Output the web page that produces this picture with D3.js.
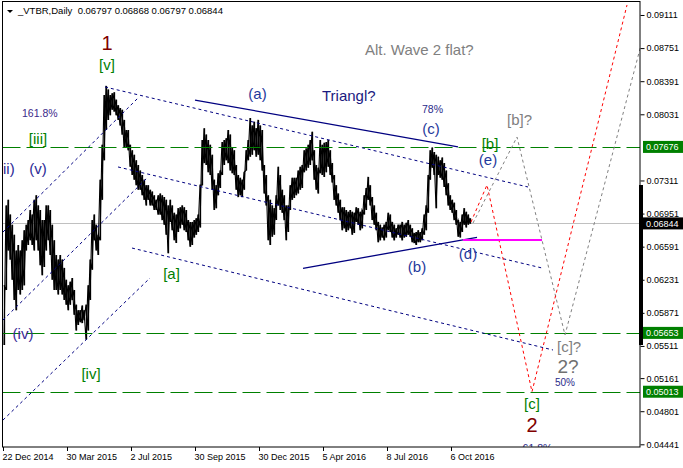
<!DOCTYPE html>
<html><head><meta charset="utf-8">
<script src="https://cdn.jsdelivr.net/npm/d3@7"></script>
<style>body{margin:0;background:#fff}svg{display:block}text{font-family:"Liberation Sans",Arial,sans-serif}</style>
</head><body>
<svg id="c" width="683" height="468"></svg>
<script>
// ---------- DATA ----------
const title = "_VTBR,Daily  0.06797 0.06868 0.06797 0.06844";
const tickLabels = ["22 Dec 2014","30 Mar 2015","2 Jul 2015","30 Sep 2015","30 Dec 2015","5 Apr 2016","8 Jul 2016","6 Oct 2016"];
const tickBars = [0,64,128,192,256,320,384,448];
const priceTicks = [0.09111,0.08751,0.08391,0.08031,0.07311,0.06951,0.06591,0.06231,0.05871,0.05511,0.05161,0.04801,0.04441];
const levelLines = [0.07676,0.05653,0.05013];
const lastPrice = 0.06844;
const firstBar = 1, barStep = 2;
// daily highs / lows, sampled every 2 bars (price x 10^4)
const highsE4 = [
617,704,710,694,683,672,655,661,655,666,
677,683,688,699,694,710,715,704,699,688,
688,704,704,699,683,666,650,645,650,645,
636,623,617,621,625,612,596,590,590,595,
590,596,617,645,688,694,683,672,732,770,
824,834,830,824,826,827,819,813,810,808,
797,786,786,770,764,759,753,748,742,737,
732,726,726,721,719,715,710,715,717,715,
713,710,704,710,704,696,694,701,702,704,
702,699,688,686,686,688,690,694,726,775,
788,781,775,770,759,732,726,739,742,773,
775,777,786,781,767,764,748,737,734,732,
740,764,775,799,791,795,788,797,791,786,
748,737,715,710,704,701,715,746,737,721,
715,704,704,726,734,734,734,742,746,748,
764,766,770,775,784,764,748,745,775,770,
772,773,775,764,750,737,726,717,710,702,
702,699,697,699,697,696,702,701,697,699,
715,723,735,726,713,704,696,686,683,680,
683,686,696,694,686,683,679,683,683,686,
683,685,688,683,679,674,675,677,675,679,
694,704,737,764,767,762,759,757,753,756,
750,742,728,715,710,707,699,688,686,694,
701,697,694,690];
const lowsE4 = [
552,612,655,645,623,601,590,612,607,612,
617,655,661,666,661,655,666,655,639,628,
637,655,666,650,623,612,612,607,612,607,
601,596,590,596,601,585,568,574,577,576,
579,558,568,601,634,666,655,650,666,710,
753,786,797,802,808,806,802,797,791,781,
767,767,764,746,737,732,726,721,721,715,
710,704,710,704,704,699,699,694,694,688,
683,672,652,686,677,666,663,675,679,683,
677,675,666,659,661,669,672,675,680,726,
750,748,740,737,721,699,701,715,723,737,
748,753,750,742,739,737,721,713,715,713,
721,742,753,757,759,764,757,759,753,742,
717,704,666,661,670,672,688,704,699,696,
688,666,675,699,710,712,715,717,721,723,
740,742,745,748,753,732,721,717,739,737,
735,740,746,737,729,710,704,696,688,677,
679,675,677,679,672,674,686,683,677,679,
694,699,710,704,688,683,677,664,666,669,
666,669,677,675,669,666,669,672,669,666,
669,670,672,670,664,663,661,664,664,666,
672,677,696,732,745,737,701,737,734,732,
724,715,704,699,696,688,683,670,669,675,
683,680,683,684];
const highs = highsE4.map(v => v / 1e4);
const lows  = lowsE4.map(v => v / 1e4);

// trend objects: [barIndex, price]
const solidLines = [
  [[192,0.08186],[455,0.07676]],
  [[300,0.06355],[474,0.06693]]
];
const dottedLines = [
  [[102,0.08328],[525,0.07240]],
  [[115,0.07458],[539,0.06359]],
  [[129,0.06576],[550,0.05467]],
  [[0,0.06750],[135,0.08208]],
  [[0,0.05793],[144,0.07338]],
  [[0,0.04705],[147,0.06250]]
];
const redPath  = [[468,0.06859],[484,0.07262],[529,0.05013],[624,0.09220]];
const grayPath = [[470,0.06848],[514,0.07784],[562,0.05630],[638,0.08784]];
const magentaLevel = [[460,0.06663],[539,0.06663]];

// ---------- LAYOUT ----------
const plot = {l:2.5, t:2, r:640, b:447};
const svg = d3.select("#c");
const x = d3.scaleLinear().domain([0,637]).range([3,640]);
const y = d3.scaleLinear().domain([0.044117,0.092524]).range([447,2]);
const FONT = '"Liberation Sans",Arial,sans-serif';

svg.append("defs").append("clipPath").attr("id","clip")
  .append("rect").attr("x",plot.l).attr("y",plot.t).attr("width",plot.r-plot.l).attr("height",plot.b-plot.t);
const g = svg.append("g").attr("clip-path","url(#clip)");

// bid line
g.append("line").attr("x1",plot.l).attr("x2",plot.r)
  .attr("y1",Math.round(y(lastPrice))+0.5).attr("y2",Math.round(y(lastPrice))+0.5)
  .attr("stroke","#c0c0c0").attr("stroke-width",1);

// price: vertical high-low bars plus a zigzag joining them
const samples = highs.map((h,i)=>({bar:firstBar+i*barStep, h, l:lows[i]}));
g.append("g").selectAll("line").data(samples).join("line")
  .attr("x1",d=>Math.round(x(d.bar))+0.5).attr("x2",d=>Math.round(x(d.bar))+0.5)
  .attr("y1",d=>y(d.h)).attr("y2",d=>y(d.l))
  .attr("stroke","#000").attr("stroke-width",1.3);
const zig = samples.map((d,i)=>[x(d.bar), y(i%2 ? d.l : d.h)]);
g.append("path").attr("d",d3.line()(zig)).attr("fill","none")
  .attr("stroke","#000").attr("stroke-width",1.1);
const zig2 = samples.map((d,i)=>[x(d.bar), y(i%2 ? d.h : d.l)]);
g.append("path").attr("d",d3.line()(zig2)).attr("fill","none")
  .attr("stroke","#000").attr("stroke-width",1.1);

// green levels
levelLines.forEach(v=>{
  const yy = Math.round(y(v))+0.5;
  g.append("line").attr("x1",plot.l).attr("x2",plot.r).attr("y1",yy).attr("y2",yy)
   .attr("stroke","#008000").attr("stroke-width",1).attr("stroke-dasharray","18,6");
});

const line = d3.line().x(d=>x(d[0])).y(d=>y(d[1]));
dottedLines.forEach(p=> g.append("path").attr("d",line(p)).attr("fill","none")
  .attr("stroke","#000080").attr("stroke-width",1).attr("stroke-dasharray","3,3"));
solidLines.forEach(p=> g.append("path").attr("d",line(p)).attr("fill","none")
  .attr("stroke","#000080").attr("stroke-width",1.3));
g.append("path").attr("d",line(grayPath)).attr("fill","none")
  .attr("stroke","#808080").attr("stroke-width",1).attr("stroke-dasharray","3,3");
g.append("path").attr("d",line(redPath)).attr("fill","none")
  .attr("stroke","#ff0000").attr("stroke-width",1).attr("stroke-dasharray","3,3");
g.append("path").attr("d",line(magentaLevel)).attr("fill","none")
  .attr("stroke","#ff00ff").attr("stroke-width",2);

// annotations
const annos = [
  ["1",107,50,"middle",20,"#800000"],
  ["[v]",107,70,"middle",15,"#008000"],
  ["161.8%",22,117,"start",10.5,"#3a2a8a"],
  ["[iii]",38,144,"middle",15,"#008000"],
  ["ii)",3,174,"start",15,"#2a2a96"],
  ["(v)",38,174,"middle",15,"#2a2a96"],
  ["[a]",171.5,279,"middle",15,"#008000"],
  ["(iv)",23,339,"middle",15,"#3a2a96"],
  ["[iv]",91,379,"middle",15,"#008000"],
  ["(a)",257.5,99,"middle",15,"#1f3a9c"],
  ["Triangl?",322,101,"start",15,"#1a1a80"],
  ["Alt. Wave 2 flat?",365,55,"start",15,"#808080"],
  ["78%",422,112.5,"start",10.5,"#2a2a8a"],
  ["(c)",431,134,"middle",15,"#1f3a9c"],
  ["[b]",490,149,"middle",15,"#008000"],
  ["[b]?",507,125,"start",15,"#808080"],
  ["(e)",488,165,"middle",15,"#1f3a9c"],
  ["(b)",417,272,"middle",15,"#1f3a9c"],
  ["(d)",468,259,"middle",15,"#1f3a9c"],
  ["[c]?",557,352,"start",15,"#808080"],
  ["2?",568,372.5,"middle",19,"#707070"],
  ["50%",565,385.5,"middle",10,"#2a2a8a"],
  ["[c]",532,409,"middle",15,"#008000"],
  ["2",532,432,"middle",20,"#800000"],
  ["61.8%",537.5,451.5,"middle",10.5,"#2a2a8a"]
];
annos.forEach(a=> g.append("text").text(a[0]).attr("x",a[1]).attr("y",a[2])
  .attr("text-anchor",a[3]).attr("font-size",a[4]).attr("fill",a[5]));

// frame
svg.append("rect").attr("x",plot.l).attr("y",plot.t-0.5).attr("width",plot.r-plot.l).attr("height",plot.b-plot.t+0.5)
  .attr("fill","none").attr("stroke","#000").attr("stroke-width",1);

// y axis
const ya = svg.append("g").attr("transform","translate(640.5,0)")
  .call(d3.axisRight(y).tickValues(priceTicks).tickSize(4).tickSizeOuter(0).tickPadding(2).tickFormat(d3.format(".5f")));
ya.select(".domain").remove();
ya.selectAll("text").attr("font-family",FONT).attr("font-size",9).attr("fill","#000");
ya.selectAll("line").attr("stroke","#000");

// x axis
const xa = svg.append("g").attr("transform","translate(0,447)")
  .call(d3.axisBottom(x).tickValues(tickBars).tickSize(4).tickSizeOuter(0).tickFormat((d,i)=>tickLabels[i]));
xa.select(".domain").remove();
xa.selectAll(".tick").attr("transform",d=>`translate(${Math.round(x(d))+0.5},0)`);
xa.selectAll("text").attr("font-family",FONT).attr("font-size",9).attr("fill","#000")
  .attr("text-anchor","start").attr("dy",0).attr("y",13).attr("x",-1);
xa.selectAll("line").attr("stroke","#000");

// scale bar on the axis
svg.append("rect").attr("x",639).attr("y",185).attr("width",4).attr("height",160).attr("fill","#000");

// price boxes
function priceBox(v, fill){
  const yy = y(v);
  svg.append("rect").attr("x",643).attr("y",yy-6).attr("width",40).attr("height",12).attr("fill",fill);
  svg.append("text").text(d3.format(".5f")(v)).attr("x",646).attr("y",yy+3.3)
    .attr("font-size",9).attr("fill","#fff");
}
levelLines.forEach(v=>priceBox(v,"#008000"));
priceBox(lastPrice,"#000");

// title
svg.append("path").attr("d","M7,10L13,10L10,13Z").attr("fill","#000");
svg.append("text").text(title).attr("x",18).attr("y",14).attr("font-size",9.5)
  .attr("fill","#000").style("white-space","pre");
</script>
</body></html>
